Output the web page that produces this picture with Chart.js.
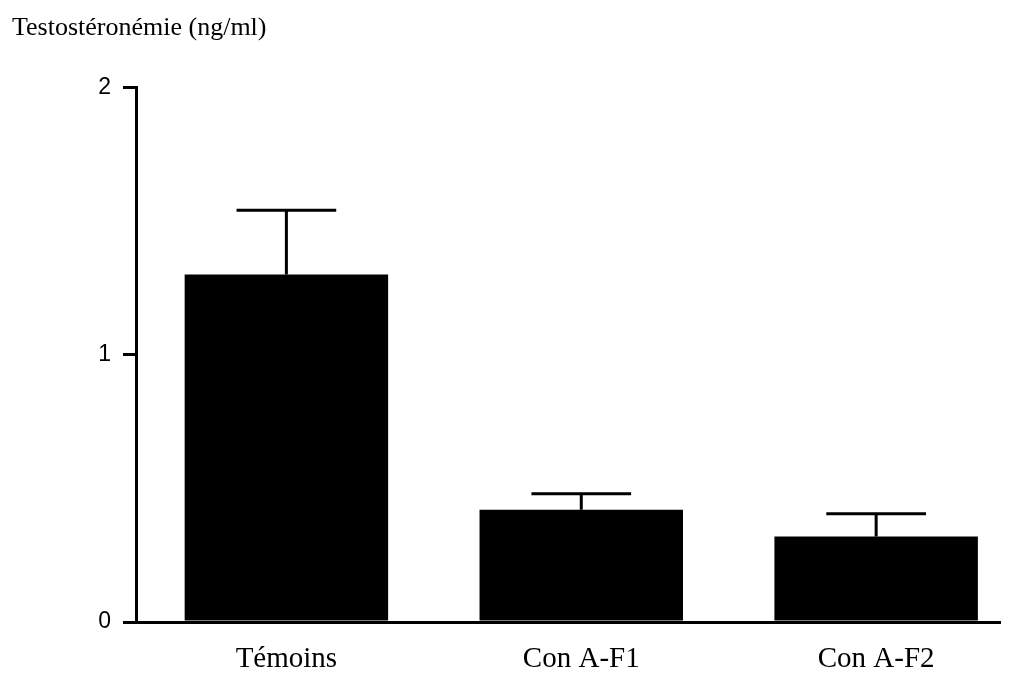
<!DOCTYPE html>
<html lang='fr'>
<head>
  <meta charset='UTF-8'>
  <title>Testostéronémie</title>
  <script src="https://cdn.jsdelivr.net/npm/chart.js@4.4.1/dist/chart.umd.min.js"></script>
  <style>
    body { margin: 0; background: #fff; }
  </style>
</head>
<body>
  <canvas id="myChart" width="1016" height="676"></canvas>
<script>
  // groupes, moyennes (ng/ml) et erreur standard
  var v_groupes = ['Témoins', 'Con A-F1', 'Con A-F2'];
  var v_moyennes = [1.30, 0.42, 0.32];
  var v_erreurs = [0.24, 0.06, 0.085];
  var v_ticksY = [0, 1, 2];

  // barres d'erreur (trait vertical + chapeau) au-dessus de chaque barre
  var p_erreurs = {
    id: 'barresErreur',
    afterDatasetsDraw: function(chart){
      var ctx = chart.ctx;
      var yScale = chart.scales.y;
      var meta = chart.getDatasetMeta(0);
      ctx.save();
      ctx.strokeStyle = '#000';
      ctx.lineWidth = 3;
      meta.data.forEach(function(bar, i){
        var yHaut = yScale.getPixelForValue(v_moyennes[i] + v_erreurs[i]);
        var demi = bar.width * 0.245;
        ctx.beginPath();
        ctx.moveTo(bar.x, bar.y);
        ctx.lineTo(bar.x, yHaut);
        ctx.moveTo(bar.x - demi, yHaut);
        ctx.lineTo(bar.x + demi, yHaut);
        ctx.stroke();
      });
      ctx.restore();
    }
  };

  var ctx = document.getElementById('myChart').getContext('2d');
  var myChart = new Chart(ctx, {
    type: 'bar',
    data: {
      datasets: [{
        data: v_groupes.map(function(g, i){ return {x: i + 1, y: v_moyennes[i]}; }),
        backgroundColor: '#000',
        borderWidth: 0,
        categoryPercentage: 1,
        barPercentage: 0.69
      }]
    },
    options: {
      responsive: false,
      animation: false,
      devicePixelRatio: 1,
      layout: { padding: { left: 12, right: 16, top: 0, bottom: 0 } },
      plugins: {
        legend: { display: false },
        tooltip: { enabled: false },
        title: {
          display: true,
          text: 'Testostéronémie (ng/ml)',
          align: 'start',
          color: '#000',
          font: { family: 'Liberation Serif', size: 26, weight: 'normal' },
          padding: { top: 13, bottom: 43 }
        }
      },
      scales: {
        x: {
          type: 'linear',
          offset: false,
          min: 0.49,
          max: 3.42,
          afterBuildTicks: function(scale){
            scale.ticks = v_groupes.map(function(g, i){ return {value: i + 1}; });
          },
          afterFit: function(scale){ scale.height = 54; },
          ticks: {
            callback: function(v, i){ return v_groupes[i]; },
            color: '#000',
            font: { family: 'Liberation Serif', size: 29 },
            padding: 20,
            maxRotation: 0,
            autoSkip: false
          },
          grid: { display: false, drawTicks: false, offset: false },
          border: { display: true, color: '#000', width: 3 }
        },
        y: {
          min: 0,
          max: 2,
          afterBuildTicks: function(scale){
            scale.ticks = v_ticksY.map(function(v){ return {value: v}; });
          },
          afterFit: function(scale){ scale.width = 124; },
          ticks: {
            color: '#000',
            font: { family: 'Liberation Sans', size: 23 },
            padding: 12
          },
          grid: {
            drawOnChartArea: false,
            drawTicks: true,
            tickLength: 13,
            lineWidth: 3,
            color: '#000'
          },
          border: { display: true, color: '#000', width: 3 }
        }
      }
    },
    plugins: [p_erreurs]
  });
</script>
</body>
</html>
